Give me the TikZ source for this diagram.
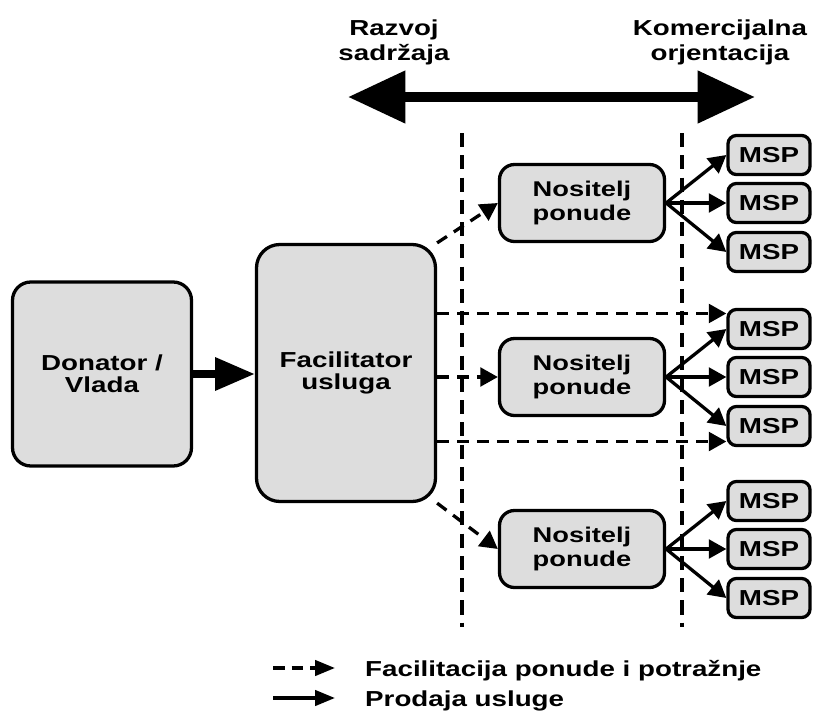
\documentclass[tikz,border=0pt]{standalone}
\usepackage{fontspec}
\setmainfont{Liberation Sans}[FakeStretch=1.28]
\usetikzlibrary{arrows.meta}

\definecolor{boxgray}{RGB}{221,221,221}
\tikzset{
    bigbox/.style={draw=black, fill=boxgray, line width=2.8pt, rounded corners=7mm,
        align=center, inner sep=0pt, font=\fontsize{18.5}{19}\selectfont\bfseries},
    nosbox/.style={draw=black, fill=boxgray, line width=2.8pt, rounded corners=4.5mm,
        minimum width=49.5mm, minimum height=23.1mm, align=center, inner sep=0pt,
        font=\fontsize{18.2}{21}\selectfont\bfseries},
    mspbox/.style={draw=black, fill=boxgray, line width=2.8pt, rounded corners=2.5mm,
        minimum width=24.6mm, minimum height=11.7mm, inner sep=0pt,
        font=\fontsize{18.5}{21}\selectfont\bfseries},
    headtext/.style={align=center, inner sep=0pt, font=\fontsize{18.5}{21.3}\selectfont\bfseries},
    keytext/.style={anchor=base west, inner sep=0pt, font=\fontsize{18.5}{20}\selectfont\bfseries},
    guide/.style={line width=2.8pt, dash pattern=on 12pt off 7pt},
    facil/.style={line width=2.8pt, dash pattern=on 10pt off 7pt,
        -{Triangle[length=15pt,width=16pt]}},
    sale/.style={line width=2.8pt, -{Triangle[length=15pt,width=16pt]}},
    keyfacil/.style={line width=3pt, dash pattern=on 10pt off 6pt,
        -{Triangle[length=17pt,width=13pt]}},
    keysale/.style={line width=3pt, -{Triangle[length=17pt,width=13pt]}},
}

\begin{document}
\begin{tikzpicture}[x=0.3mm, y=-0.3mm]
    \useasboundingbox (0,0) rectangle (813,717);
    % Header
    \node[headtext] (Razvoj) at (394,42) {Razvoj\\sadržaja};
    \node[headtext] (Komerc) at (720,42) {Komercijalna\\orjentacija};
    \coordinate (Axis-L) at (348,97);
    \coordinate (Axis-R) at (755,97);
    \draw[line width=8.5pt, {Triangle[length=49pt,width=43pt]}-{Triangle[length=49pt,width=43pt]}]
        (Axis-L) -- (Axis-R);
    % Guide lines
    \foreach \name/\x in {L/462,R/682} {
        \coordinate (Guide-\name-top) at (\x,133);
        \coordinate (Guide-\name-bot) at (\x,627);
        \draw[guide] (Guide-\name-top) -- (Guide-\name-bot);
    }
    % Donor and facilitator
    \node[bigbox, minimum width=53.7mm, minimum height=55.2mm, rounded corners=5.5mm]
        (Donator) at (102,374) {Donator /\\Vlada};
    \node[bigbox, minimum width=53.7mm, minimum height=77.1mm]
        (Facilitator) at (346,373) {Facilitator\\usluga};
    \draw[line width=6.5pt, -{Triangle[length=34pt,width=27pt]}]
        (Donator.east) -- (Donator.east -| Facilitator.west);
    % Providers and MSPs
    \foreach \i/\y in {1/203,2/377,3/549} {
        \node[nosbox] (Nositelj-\i) at (582,\y) {Nositelj\\ponude};
        \node[mspbox] (MSP-\i-1) at (769,\y-48) {MSP};
        \node[mspbox] (MSP-\i-2) at (769,\y) {MSP};
        \node[mspbox] (MSP-\i-3) at (769,\y+49) {MSP};
    }
    % Arrows
    \foreach \i in {1,2,3} {
        \foreach \j in {1,2,3} {
           \draw[sale] (Nositelj-\i.east) -- (MSP-\i-\j.west);
        }
    }
    \draw[facil] (Facilitator.north east) -- (Nositelj-1.west);
    \draw[facil] (Facilitator.east |- Nositelj-2.west) -- (Nositelj-2.west);
    \draw[facil] (Facilitator.south east) -- (Nositelj-3.west);
    \draw[facil] (Facilitator.east |- MSP-2-1.160) -- (MSP-2-1.160);
    \draw[facil] (Facilitator.east |- MSP-2-3.200) -- (MSP-2-3.200);
    % Legend
    \foreach \i/\y/\kind/\text in {1/668/keyfacil/Facilitacija ponude i potražnje,2/698/keysale/Prodaja usluge} {
        \coordinate (Key-\i) at (273,\y);
        \coordinate (KeyEnd-\i) at (335,\y);
        \node[keytext] (KeyText-\i) at (365,\y+8) {\text};
        \draw[\kind] (Key-\i) -- (KeyEnd-\i);
    }
\end{tikzpicture}
\end{document}
